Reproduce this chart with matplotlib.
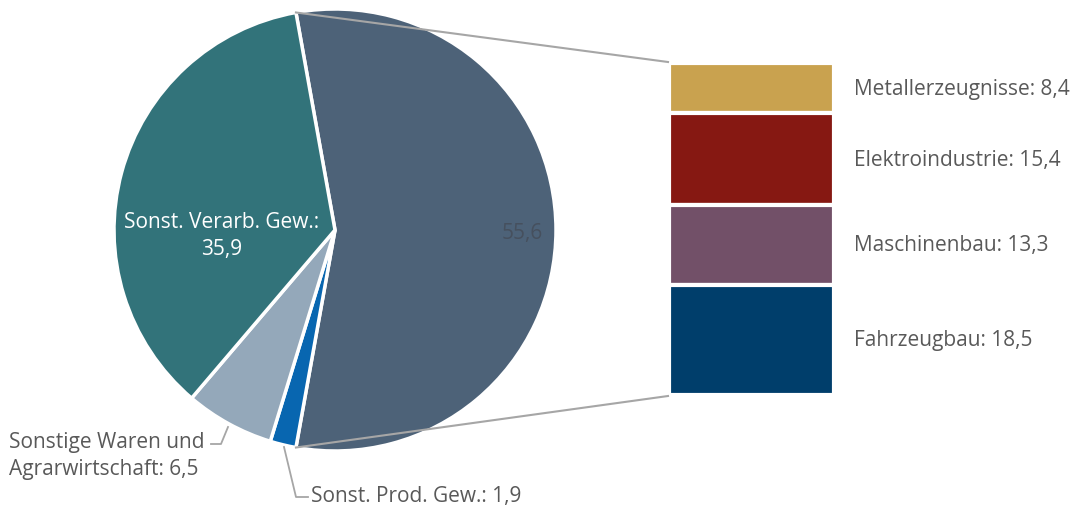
import matplotlib
matplotlib.use("Agg")
import matplotlib.pyplot as plt
import numpy as np

plt.rcParams['font.family'] = ['Open Sans', 'DejaVu Sans']

# Data
pie_labels = ["", "Sonst. Prod. Gew.: 1,9", "Sonstige Waren und\nAgrarwirtschaft: 6,5", "Sonst. Verarb. Gew.:\n35,9"]
pie_values = [55.6, 1.9, 6.5, 35.9]
pie_colors = ["#4D6278", "#0866B0", "#94A8BA", "#32737A"]

bar_categories = ["Metallerzeugnisse", "Elektroindustrie", "Maschinenbau", "Fahrzeugbau"]
bar_values = [8.4, 15.4, 13.3, 18.5]
bar_labels = ["Metallerzeugnisse: 8,4", "Elektroindustrie: 15,4", "Maschinenbau: 13,3", "Fahrzeugbau: 18,5"]
bar_colors = ["#C9A24F", "#861812", "#725068", "#003E6B"]

W, H = 1078, 510
fig = plt.figure(figsize=(W / 100, H / 100), dpi=100)
ax = fig.add_axes([0, 0, 1, 1])

cx, cy, r = 335, H - 231, 221
total = sum(pie_values)
first_deg = pie_values[0] / total * 360
start = 90 + (first_deg - 180) / 2
wedges, _ = ax.pie(pie_values, colors=pie_colors, startangle=start, counterclock=False,
                   center=(cx, cy), radius=r, frame=True,
                   wedgeprops=dict(edgecolor='white', linewidth=2.5))
ax.set_xlim(0, W)
ax.set_ylim(0, H)
ax.set_aspect('equal')
ax.axis('off')

txt = "#595959"
fs = 15
# labels inside
ax.text(222, H - 236, pie_labels[3], color='white', ha='center', va='center', fontsize=fs, linespacing=1.35)
ax.text(522, H - 233, "55,6", color='#46505E', ha='center', va='center', fontsize=fs)
# Sonstige Waren label
ax.text(9, H - 456, pie_labels[2], color=txt, ha='left', va='center', fontsize=fs, linespacing=1.35)
ax.plot([211, 221, 228], [H - 445, H - 445, H - 428], color='#A6A6A6', lw=1.3)
# Sonst Prod label
ax.text(311, H - 497, pie_labels[1], color=txt, ha='left', va='center', fontsize=fs)
ax.plot([284, 296, 308], [H - 448, H - 498, H - 498], color='#A6A6A6', lw=1.3)

# Connector lines
a1 = np.deg2rad(start)
a2 = np.deg2rad(start - first_deg)
bx0, btop, bbot = 668, H - 63, H - 397
ax.plot([cx + r * np.cos(a1), bx0], [cy + r * np.sin(a1), btop], color='#A6A6A6', lw=1.5)
ax.plot([cx + r * np.cos(a2), bx0], [cy + r * np.sin(a2), bbot], color='#A6A6A6', lw=1.5)

# Stacked bar
bx = fig.add_axes([669 / W, (H - 396) / H, 165 / W, 332 / H])
bottoms = np.concatenate([[0], np.cumsum(bar_values)[:-1]])
bx.bar([0] * len(bar_values), bar_values, bottom=bottoms, width=1.0, color=bar_colors,
       edgecolor='white', linewidth=3)
bx.set_xlim(-0.5, 0.5)
bx.set_ylim(sum(bar_values), 0)
bx.axis('off')
for lab, b, v in zip(bar_labels, bottoms, bar_values):
    bx.text(1.12, b + v / 2, lab, transform=bx.get_yaxis_transform(), color=txt,
            ha='left', va='center', fontsize=fs)

fig.savefig("out.png", dpi=100)
